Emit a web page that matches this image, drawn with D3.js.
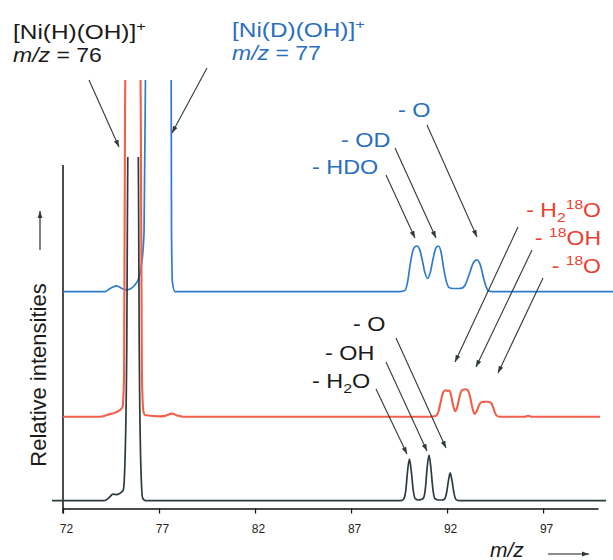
<!DOCTYPE html>
<html>
<head>
<meta charset="utf-8">
<script src="https://cdn.jsdelivr.net/npm/d3@7"></script>
<style>
  body { margin: 0; background: #fff; }
  svg { display: block; font-family: "Liberation Sans", Arial, sans-serif; }
</style>
</head>
<body>
<svg width="613" height="560"></svg>
<script>
// x axis ticks (m/z)
var tickValues = [72, 77, 82, 87, 92, 97];

// spectra: [m/z, relative intensity]
var blackSpectrum = [
  [71.43, 0], [74.15, 0], [74.4, 0.9], [74.6, 1.9], [74.8, 1.8], [75.0, 2.3], [75.14, 3.2],
  [75.23, 12], [75.32, 45], [75.4, 125], [75.65, 130], [75.9, 125], [75.97, 45], [76.06, 9],
  [76.15, 0.7], [76.3, 0],
  [89.6, 0], [89.75, 0.6], [89.85, 3.0], [89.94, 8.5], [90.04, 12.2], [90.14, 8.5], [90.24, 3.0],
  [90.34, 0.6], [90.5, 0.2], [90.62, 0.3], [90.76, 0.7], [90.87, 3.5], [90.96, 9.5], [91.06, 13.4],
  [91.16, 9.5], [91.26, 3.5], [91.36, 0.7], [91.55, 0.2], [91.72, 0.2], [91.87, 0.5], [91.97, 2.2],
  [92.07, 5.8], [92.16, 8.2], [92.26, 5.8], [92.36, 2.2], [92.46, 0.4], [92.65, 0],
  [100.28, 0]
];

var redSpectrum = [
  [72, 0], [73.93, 0], [74.34, 0.6], [74.71, 1.2], [74.97, 2.0], [75.1, 2.9], [75.18, 12],
  [75.23, 90], [75.33, 125], [75.65, 130], [75.96, 125], [76.05, 90], [76.11, 12], [76.19, 1.5],
  [76.27, 0.5], [77.05, 0.1], [77.31, 0.25], [77.68, 0.9], [77.99, 0.25], [78.25, 0],
  [91.11, 0], [91.4, 0.2], [91.55, 1.5], [91.68, 4.6], [91.8, 7.2], [91.92, 7.8], [92.02, 7.6],
  [92.12, 7.7], [92.22, 6.0], [92.32, 3.2], [92.42, 1.6], [92.52, 2.6], [92.64, 5.6], [92.76, 7.7],
  [92.88, 8.0], [92.99, 8.06], [93.1, 7.6], [93.2, 5.8], [93.32, 2.6], [93.44, 0.8], [93.56, 1.8],
  [93.68, 3.6], [93.82, 4.3], [93.98, 4.4], [94.14, 4.4], [94.3, 4.0], [94.42, 2.4], [94.54, 0.6],
  [94.7, 0], [96.06, 0], [96.22, 0.3], [96.38, 0], [99.97, 0]
];

var blueSpectrum = [
  [72, 0], [74.19, 0], [74.45, 0.9], [74.8, 1.7], [75.07, 0.9], [75.32, 0.5], [75.54, 0.9],
  [75.75, 2.0], [75.93, 3.8], [76.1, 8.4], [76.22, 17.6], [76.31, 75], [76.38, 120], [77.0, 125],
  [77.61, 120], [77.65, 18], [77.7, 2.6], [77.83, 0],
  [89.55, 0], [89.8, 0.3], [89.95, 3], [90.08, 8], [90.2, 11.6], [90.33, 13.2], [90.45, 13.4],
  [90.57, 12.4], [90.7, 9.5], [90.85, 5.5], [90.99, 3.9], [91.12, 5.5], [91.27, 9.6], [91.42, 12.8],
  [91.55, 13.4], [91.68, 11.8], [91.82, 7], [91.95, 3.3], [92.1, 1.2], [92.3, 0.9], [92.6, 0.9],
  [92.78, 1], [92.95, 2], [93.15, 5], [93.35, 8.2], [93.55, 9.3], [93.75, 7.5], [93.9, 4],
  [94.03, 1.5], [94.15, 0.2], [94.34, 0], [100.65, 0]
];

var svg = d3.select('svg');
var width = +svg.attr('width');
var height = +svg.attr('height');

var axisY = 508.5;
var x = d3.scaleLinear().domain([72, 99.86]).range([63, 598]);
var y = d3.scaleLinear().domain([0, 100]).range([axisY, axisY - 340]);

var blue = '#2f7bcc';
var blueText = '#2a6fbe';
var red = '#f2604c';
var redText = '#e8412f';
var dark = '#2d3b3e';

// stacking offset and visible top (intensity units) for each trace
var traces = [
  { data: blueSpectrum, offset: 63.8, top: 126, color: blue, w: 1.7 },
  { data: redSpectrum, offset: 27, top: 126, color: red, w: 2.1 },
  { data: blackSpectrum, offset: 2.3, top: 103.4, color: dark, w: 1.7 }
];

var defs = svg.append('defs');
defs.append('marker')
  .attr('id', 'arr')
  .attr('viewBox', '0 0 10 10')
  .attr('refX', 10)
  .attr('refY', 5)
  .attr('markerWidth', 7)
  .attr('markerHeight', 7)
  .attr('markerUnits', 'userSpaceOnUse')
  .attr('orient', 'auto')
  .append('path')
  .attr('d', 'M0,1.5L10,5L0,8.5Z')
  .attr('fill', '#2f3a3c');

// axes
var xAxis = svg.append('g')
  .attr('transform', 'translate(0,' + axisY + ')')
  .call(d3.axisBottom(x).tickValues(tickValues).tickSize(5).tickSizeOuter(0));
xAxis.select('.domain').attr('stroke', '#111').attr('stroke-width', 1.5);
xAxis.selectAll('.tick line').attr('stroke', '#111').attr('stroke-width', 1.2);
xAxis.selectAll('.tick text')
  .attr('y', 24.5)
  .attr('dy', 0)
  .attr('dx', 3)
  .attr('fill', '#222')
  .style('font-family', '"Liberation Sans", Arial, sans-serif')
  .style('font-size', '12px');

svg.append('line')
  .attr('x1', x(72)).attr('x2', x(72))
  .attr('y1', y(101)).attr('y2', axisY + 5)
  .attr('stroke', '#111')
  .attr('stroke-width', 1.5);

// spectra
traces.forEach(function (t, i) {
  defs.append('clipPath')
    .attr('id', 'clip' + i)
    .append('rect')
    .attr('x', 0)
    .attr('y', y(t.top))
    .attr('width', width)
    .attr('height', height);

  var line = d3.line()
    .x(function (d) { return x(d[0]); })
    .y(function (d) { return y(d[1] + t.offset); })
    .curve(d3.curveMonotoneX);

  svg.append('path')
    .datum(t.data)
    .attr('clip-path', 'url(#clip' + i + ')')
    .attr('d', line)
    .attr('fill', 'none')
    .attr('stroke', t.color)
    .attr('stroke-width', t.w)
    .attr('stroke-linejoin', 'round');
});

// labels with sub / superscripts
function addLabel(parts, px, py, color, anchor, sx, size) {
  size = size || 19.5;
  var t = svg.append('text')
    .attr('transform', 'translate(' + px + ',' + py + ') scale(' + sx + ',1)')
    .attr('fill', color)
    .attr('font-size', size)
    .attr('text-anchor', anchor);
  var shift = 0;
  parts.forEach(function (p) {
    var target = p[1] === 'sub' ? 5 : p[1] === 'sup' ? -8 : 0;
    t.append('tspan')
      .attr('dy', target - shift)
      .attr('font-size', p[1] ? size * 0.68 : null)
      .attr('font-style', p[2] ? 'italic' : null)
      .text(p[0]);
    shift = target;
  });
}

function arrow(x1, y1, x2, y2) {
  svg.append('line')
    .attr('x1', x1).attr('y1', y1)
    .attr('x2', x2).attr('y2', y2)
    .attr('stroke', '#2f3a3c')
    .attr('stroke-width', 1.1)
    .attr('marker-end', 'url(#arr)');
}

// headers
addLabel([['[Ni(H)(OH)]'], ['+', 'sup']], 13, 39, '#1a1a1a', 'start', 1.22, 20);
addLabel([['m/z', '', true], [' = 76']], 13, 62, '#1a1a1a', 'start', 1.15, 20);
addLabel([['[Ni(D)(OH)]'], ['+', 'sup']], 232, 37, blueText, 'start', 1.22, 20);
addLabel([['m/z', '', true], [' = 77']], 232, 60, blueText, 'start', 1.15, 20);
arrow(89, 80, 119, 147);
arrow(207, 68, 172, 133);

// blue losses
addLabel([['- O']], 398, 117, blueText, 'start', 1.2);
addLabel([['- OD']], 341, 147, blueText, 'start', 1.2);
addLabel([['- HDO']], 312, 174, blueText, 'start', 1.2);
arrow(386, 175, 415, 238);
arrow(395, 148, 436, 238);
arrow(427, 125, 477, 237);

// red losses
addLabel([['- H'], ['2', 'sub'], ['18', 'sup'], ['O']], 601, 217, redText, 'end', 1.18);
addLabel([['- '], ['18', 'sup'], ['OH']], 601, 245, redText, 'end', 1.18);
addLabel([['- '], ['18', 'sup'], ['O']], 601, 273, redText, 'end', 1.18);
arrow(518, 227, 455, 362);
arrow(532, 250, 476, 367);
arrow(543, 278, 498, 373);

// black losses
addLabel([['- O']], 353, 331, '#1a1a1a', 'start', 1.2);
addLabel([['- OH']], 325, 360, '#1a1a1a', 'start', 1.2);
addLabel([['- H'], ['2', 'sub'], ['O']], 312, 388, '#1a1a1a', 'start', 1.2);
arrow(376, 389, 407, 454);
arrow(386, 362, 427, 451);
arrow(396, 338, 446, 448);

// axis titles
svg.append('text')
  .attr('transform', 'translate(46,375) rotate(-90)')
  .attr('text-anchor', 'middle')
  .attr('font-size', 22)
  .attr('fill', '#1a1a1a')
  .text('Relative intensities');

svg.append('line')
  .attr('x1', 40).attr('y1', 250)
  .attr('x2', 40).attr('y2', 211)
  .attr('stroke', '#1a1a1a')
  .attr('stroke-width', 1.1)
  .attr('marker-end', 'url(#arr)');

svg.append('text')
  .attr('x', 490)
  .attr('y', 557)
  .attr('font-size', 21)
  .attr('font-style', 'italic')
  .attr('fill', '#1a1a1a')
  .text('m/z');

svg.append('line')
  .attr('x1', 548).attr('y1', 554)
  .attr('x2', 589).attr('y2', 554)
  .attr('stroke', '#1a1a1a')
  .attr('stroke-width', 1.1)
  .attr('marker-end', 'url(#arr)');
</script>
</body>
</html>
